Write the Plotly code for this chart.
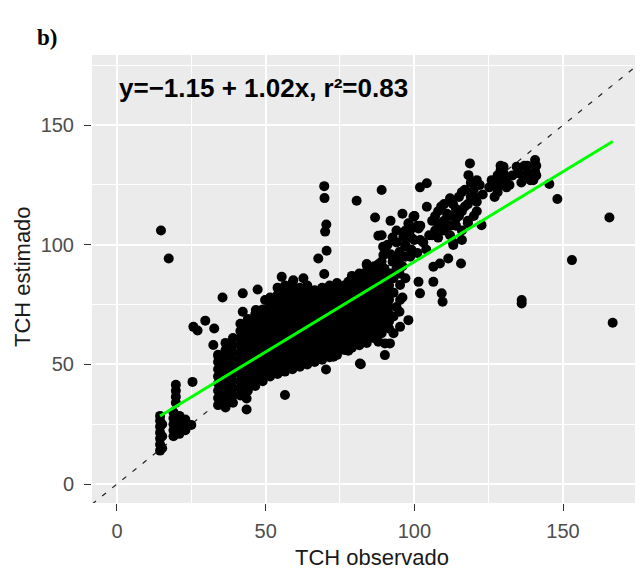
import plotly.graph_objects as go

# ---------------- data ----------------
# dense band, column by column: x value -> list of y values
band_x = [34, 36.5, 39, 41.5, 44, 46.5, 49, 51.5, 54, 56.5, 59, 61.5, 64, 66.5,
          69, 71.5, 74, 76.5, 79, 81.5, 84, 86.5, 89, 91.5]
band_y = [
    [33, 36, 39, 42, 45, 48, 51, 54],
    [32, 35, 38, 41, 44, 47, 50, 53, 56, 59],
    [34, 37, 40, 43, 46, 49, 52, 55, 58, 61],
    [37, 40, 43, 46, 49, 52, 55, 58, 61, 64, 67],
    [39, 42, 45, 48, 51, 54, 57, 60, 63, 66, 69],
    [41, 44, 47, 50, 53, 56, 59, 62, 65, 68, 71],
    [43, 46, 49, 52, 55, 58, 61, 64, 67, 70, 73],
    [45, 48, 51, 54, 57, 60, 63, 66, 69, 72, 75, 78],
    [46, 49, 52, 55, 58, 61, 64, 67, 70, 73, 76, 79, 82],
    [47, 50, 53, 56, 59, 62, 65, 68, 71, 74, 77, 80, 83],
    [48, 51, 54, 57, 60, 63, 66, 69, 72, 75, 78, 81, 84],
    [49, 52, 55, 58, 61, 64, 67, 70, 73, 76, 79, 82],
    [50, 53, 56, 59, 62, 65, 68, 71, 74, 77, 80, 83],
    [51, 54, 57, 60, 63, 66, 69, 72, 75, 78, 81],
    [52, 55, 58, 61, 64, 67, 70, 73, 76, 79, 82],
    [53, 56, 59, 62, 65, 68, 71, 74, 77, 80, 83],
    [54, 57, 60, 63, 66, 69, 72, 75, 78, 81, 84],
    [56, 59, 62, 65, 68, 71, 74, 77, 80, 83],
    [57, 60, 63, 66, 69, 72, 75, 78, 81, 84, 87],
    [58, 61, 64, 67, 70, 73, 76, 79, 82, 85, 88],
    [59, 62, 65, 68, 71, 74, 77, 80, 83, 86, 89, 92],
    [61, 64, 67, 70, 73, 76, 79, 82, 85, 88, 91],
    [63, 66, 69, 72, 75, 78, 81, 84, 87, 90, 93],
    [65, 68, 71, 74, 77, 80, 83, 86],
]

# scattered points (observed, estimated)
obs_scatter = [
    14.5, 14.5, 14.5, 14.5, 14.5, 14.5, 14.5, 15.2, 15.2, 15.2,
    19.8, 19.8, 19.8, 19.8,
    19, 19, 19, 19, 19, 21, 21, 21, 21, 23, 23, 23, 25, 25.4,
    14.8, 17.4,
    25.7, 27.1, 29.7, 32.7, 32.4, 34.1, 34.6, 36.3,
    35.5, 42.3, 47.3, 49.8, 42.3, 46.7, 55.4, 59.3, 62.7,
    43.6, 43.6, 56.5, 70.3, 81.7, 77.8, 90.1, 87.9, 84, 62.7,
    69.7, 69.8, 70.4, 70, 70.5, 67.7, 69.7, 80.6, 86.8, 87.9, 89, 92.7,
    89.5, 90.7, 92.7, 84, 87.3, 77.8, 81.7, 89,
    104.2, 101.9, 104.2, 112, 99.7, 98.6, 101.4, 96.3, 96.9, 98.6, 101, 93,
    89.6, 113.1, 111.4, 108.6, 106.4, 115.7, 106.4, 101.4, 101.9, 109.2, 109.5,
    95.2, 95.2, 98, 95.2, 90.1, 91.8, 84, 77.8, 82, 72.8,
    108, 110, 112, 114, 116, 109, 113,
    115, 117, 119, 121, 118, 120, 116, 122.6, 118.2, 121, 118.7,
    106, 108, 110, 112, 114, 107, 105, 103, 104,
    92, 94, 96, 98, 100, 100, 102,
    125.2, 128, 128, 130, 130, 132, 129, 134.4, 136.7, 140, 140.6, 140.6,
    145.4, 148.1, 126, 131, 135, 138,
    165.6, 153, 136.1, 136.1, 166.7,
    # denser masses right of the band
    106, 108, 110, 112, 114, 116, 118, 120, 113, 115, 117, 119, 111, 109, 107,
    121, 123, 122, 116, 118, 120,
    95, 97, 99, 101, 100, 97, 99, 102, 95, 94,
    88, 90, 92, 94, 96, 91, 93, 95, 97, 89, 91,
    93, 94, 93, 95, 96, 97, 93, 92, 94,
    128, 129, 130, 131, 129, 128, 135, 137, 138, 139, 141, 141, 136, 133, 127,
]
est_scatter = [
    14, 16.5, 19, 21.5, 24, 26.5, 28.5, 15, 20, 25,
    34, 36.5, 39, 41.5,
    20, 22.5, 25, 27.5, 30, 21, 23.5, 26, 28.5, 22.5, 25, 27, 24.7, 42.7,
    106, 94.3,
    65.7, 64.2, 68.3, 65, 58.1, 53.2, 49, 51.1,
    78, 79.7, 81.3, 76.9, 72, 72.7, 86.6, 85.2, 86,
    31.2, 35.8, 37.2, 47.9, 50.4, 55.7, 53.9, 59.5, 60.5, 50.4,
    124.5, 119.5, 108.5, 105.5, 97.5, 94.3, 87.8, 118.4, 111.4, 103.8, 104, 103,
    99.2, 96.4, 92.9, 91.5, 90.8, 84.5, 85.5, 122.9,
    115.9, 124, 125.7, 119.4, 111.7, 106.1, 106.8, 103.3, 99.2, 95, 96.6, 93.6,
    95.7, 99.9, 94.3, 92.2, 90.8, 92.2, 84.5, 84.5, 79.7, 79.7, 76.2,
    83.2, 76.9, 68.5, 65.7, 58.8, 58.8, 60.2, 56, 50.1, 53.2,
    103, 106, 104, 108, 102, 109, 101,
    112, 116, 120, 114, 110, 123, 122, 108.2, 129.1, 127, 134,
    110, 114, 117, 112, 115, 106, 104, 101, 98,
    110, 106, 113, 109, 102, 112, 108,
    124, 122, 126, 129, 132.6, 125, 131, 132.6, 128.4, 127, 130.5, 135.4,
    125.4, 119.1, 127, 124, 130, 133,
    111.4, 93.6, 76.9, 75.5, 67.4,
    104, 107, 110, 108, 111, 114, 117, 120, 117, 120, 123, 126, 113, 116, 112,
    118, 121, 125, 106, 109, 112,
    97, 100, 103, 108, 112, 106, 98, 102, 92, 101,
    92, 90, 96, 94, 91, 100, 86, 88, 95, 84, 84,
    70, 74, 80, 72, 78, 86, 63, 88, 90,
    124, 127, 130, 126, 133, 129, 130, 133, 130, 127, 129, 133, 126, 129, 120,
]

# fitted line (as drawn) and equation label
fit_intercept = 17.5
fit_slope = 0.754
equation_text = "y=\u22121.15 + 1.02x, r\u00b2=0.83"
panel_label = "b)"

x_ticks = [0, 50, 100, 150]
y_ticks = [0, 50, 100, 150]
x_title = "TCH observado"
y_title = "TCH estimado"

# ---------------- assemble ----------------
obs = []
est = []
for xv, ys in zip(band_x, band_y):
    for yv in ys:
        obs.append(xv)
        est.append(yv)
obs += obs_scatter
est += est_scatter

x_min, x_max = min(obs), max(obs)
fit_x = [x_min, x_max]
fit_y = [fit_intercept + fit_slope * v for v in fit_x]

X_RANGE = [-8.4, 176.9]
Y_RANGE = [-7.9, 179.3]

SANS = "Liberation Sans, Arial, sans-serif"

# page has an 8px body margin: figure origin sits at (8, 8) of the window
PAGE_OFF = 8
PL, PR, PT, PB = 92, 643, 55, 503   # plot area in window pixels
W, H = 643 - PAGE_OFF, 571 - PAGE_OFF

fig = go.Figure()

# 1:1 reference line
fig.add_trace(go.Scatter(
    x=[X_RANGE[0], X_RANGE[1]], y=[X_RANGE[0], X_RANGE[1]],
    mode="lines", line=dict(color="#222222", width=1.2, dash="5px,8px"),
    hoverinfo="skip", showlegend=False))

fig.add_trace(go.Scatter(
    x=obs, y=est, mode="markers",
    marker=dict(color="black", size=10, line=dict(width=0)),
    showlegend=False))

fig.add_trace(go.Scatter(
    x=fit_x, y=fit_y, mode="lines",
    line=dict(color="#00FF00", width=3),
    showlegend=False))

axis_common = dict(
    showgrid=True, gridcolor="white", gridwidth=2,
    zeroline=False, showline=False, automargin=False,
    ticks="outside", ticklen=7, tickwidth=1.3, tickcolor="#333333",
    tickfont=dict(family=SANS, size=20, color="#4D4D4D"),
    minor=dict(dtick=25, tick0=0, showgrid=True, gridcolor="white", gridwidth=1, ticks=""),
)

pw, ph = PR - PL, PB - PT

fig.update_layout(
    width=W, height=H,
    margin=dict(l=PL - PAGE_OFF, r=W - (PR - PAGE_OFF), t=PT - PAGE_OFF, b=H - (PB - PAGE_OFF)),
    paper_bgcolor="white", plot_bgcolor="#EBEBEB",
    xaxis=dict(range=X_RANGE, tickvals=x_ticks, ticklabelstandoff=3, **axis_common),
    yaxis=dict(range=Y_RANGE, tickvals=y_ticks, ticklabelstandoff=6, **axis_common),
    annotations=[
        dict(text=equation_text, xref="x", yref="y",
             x=0, y=165.5, xanchor="left", yanchor="middle", showarrow=False,
             font=dict(family=SANS, size=26, color="black", weight="bold")),
        dict(text=f"<b>{panel_label}</b>", xref="paper", yref="paper",
             x=(35 - PL) / pw, y=(PB - 37) / ph, xanchor="left", yanchor="middle",
             showarrow=False,
             font=dict(family="Liberation Serif, Times New Roman, serif", size=23, color="black")),
        dict(text=x_title, xref="paper", yref="paper",
             x=(372 - PL) / pw, y=(PB - 557) / ph, xanchor="center", yanchor="middle",
             showarrow=False, font=dict(family=SANS, size=22, color="#1a1a1a")),
        dict(text=y_title, xref="paper", yref="paper", textangle=-90,
             x=(22 - PL) / pw, y=(PB - 277) / ph, xanchor="center", yanchor="middle",
             showarrow=False, font=dict(family=SANS, size=22, color="#1a1a1a")),
    ],
)

fig.write_html("out.html")
